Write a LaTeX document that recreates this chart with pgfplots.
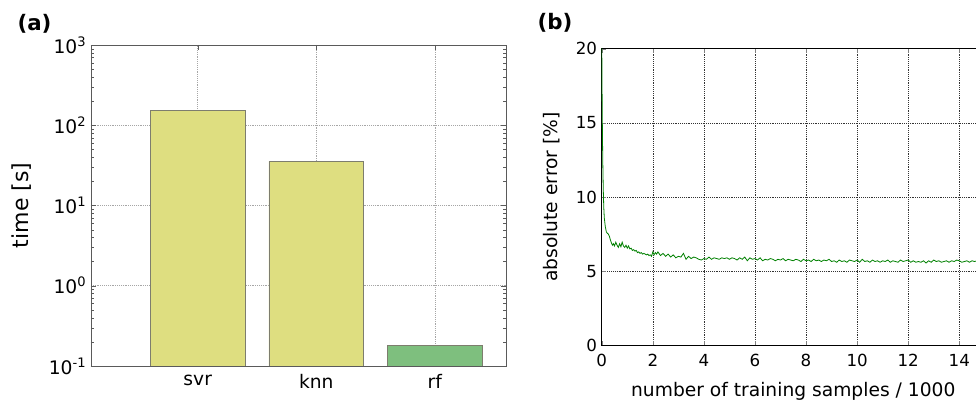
\documentclass[border=0pt]{standalone}
\usepackage{pgfplots}
\pgfplotsset{compat=1.18}
\usepackage{fontspec}
\setmainfont{DejaVu Sans}

\definecolor{baryel}{RGB}{222,222,128}
\definecolor{bargrn}{RGB}{126,191,126}
\definecolor{baredge}{RGB}{125,125,110}
\definecolor{spine}{RGB}{90,90,90}
\definecolor{curve}{RGB}{0,128,0}

\pgfplotstableread{
x y
0.00 20.5
0.02 15.5
0.04 12.5
0.06 10.5
0.08 9.3
0.10 8.6
0.14 8.0
0.18 7.65
0.22 7.55
0.26 7.5
0.30 7.35
0.34 7.1
0.38 6.9
0.42 6.75
0.46 6.85
0.50 6.7
0.55 6.95
0.60 6.75
0.65 6.6
0.70 6.85
0.75 6.65
0.80 6.95
0.85 6.7
0.90 6.6
0.95 6.75
1.00 6.55
1.05 6.7
1.10 6.5
1.15 6.55
1.20 6.4
1.25 6.45
1.30 6.35
1.35 6.4
1.40 6.25
1.45 6.3
1.50 6.2
1.55 6.25
1.60 6.15
1.65 6.2
1.70 6.15
1.75 6.1
1.80 6.15
1.85 6.05
1.90 6.1
1.95 6.0
2.00 6.3
2.05 6.1
2.10 6.25
2.15 6.15
2.20 6.3
2.30 6.05
2.40 6.2
2.50 6.0
2.60 6.15
2.70 5.95
2.80 6.1
2.90 5.9
3.00 6.0
3.10 5.95
3.20 6.2
3.30 5.8
3.40 6.0
3.50 5.85
3.60 5.95
3.70 5.9
3.80 5.8
3.90 5.75
4.00 5.85
4.10 5.8
4.20 5.95
4.30 5.8
4.40 5.9
4.50 5.85
4.60 5.8
4.70 5.9
4.80 5.85
4.90 5.9
5.00 5.8
5.10 5.9
5.20 5.85
5.30 5.75
5.40 5.9
5.50 5.8
5.60 5.95
5.70 5.7
5.80 5.9
5.90 5.8
6.00 5.85
6.10 5.75
6.20 5.9
6.30 5.7
6.40 5.8
6.50 5.75
6.60 5.85
6.70 5.8
6.80 5.7
6.90 5.8
7.00 5.75
7.10 5.85
7.20 5.7
7.30 5.8
7.40 5.75
7.50 5.7
7.60 5.8
7.70 5.75
7.80 5.65
7.90 5.8
8.00 5.7
8.10 5.75
8.20 5.65
8.30 5.8
8.40 5.7
8.50 5.75
8.60 5.65
8.70 5.75
8.80 5.7
8.90 5.8
9.00 5.65
9.10 5.7
9.20 5.6
9.30 5.75
9.40 5.65
9.50 5.7
9.60 5.6
9.70 5.75
9.80 5.7
9.90 5.65
10.00 5.75
10.10 5.6
10.20 5.8
10.30 5.65
10.40 5.7
10.50 5.6
10.60 5.75
10.70 5.65
10.80 5.7
10.90 5.6
11.00 5.7
11.10 5.65
11.20 5.75
11.30 5.6
11.40 5.7
11.50 5.65
11.60 5.6
11.70 5.75
11.80 5.65
11.90 5.7
12.00 5.75
12.10 5.6
12.20 5.7
12.30 5.6
12.40 5.65
12.50 5.6
12.60 5.7
12.70 5.55
12.80 5.7
12.90 5.6
13.00 5.75
13.10 5.65
13.20 5.7
13.30 5.6
13.40 5.65
13.50 5.7
13.60 5.6
13.70 5.7
13.80 5.65
13.90 5.75
14.00 5.7
14.10 5.6
14.20 5.65
14.30 5.7
14.40 5.6
14.50 5.7
14.60 5.65
14.70 5.7
14.80 5.6
14.90 5.65
15.00 5.7
}\errortable

\begin{document}
\begin{tikzpicture}
% page = 976 x 402 px at 0.75pt per px
\path[use as bounding box, clip] (0,0) rectangle (732pt,301.5pt);

\pgfplotsset{every axis/.append style={
  scale only axis,
  tick align=inside,
  major tick length=3.5pt,
  minor tick length=2pt,
  /pgf/number format/assume math mode=true,
}}

% (a) timing, log scale
\begin{axis}[
  at={(68.25pt,27pt)}, anchor=south west,
  width=311.25pt, height=240.75pt,
  font=\fontsize{14}{16}\selectfont,
  ymode=log, log origin y=infty,
  ymin=0.1, ymax=1000,
  xmin=0.1, xmax=3.6,
  xtick={1,2,3}, xticklabels={svr,knn,rf},
  xticklabel style={yshift=-3pt},
  ytick={0.1,1,10,100,1000},
  yticklabels={10\textsuperscript{-1},10\textsuperscript{0},10\textsuperscript{1},10\textsuperscript{2},10\textsuperscript{3}},
  ylabel={time [s]},
  ylabel style={font=\fontsize{16.5}{18}\selectfont, yshift=6pt},
  xmajorgrids, ymajorgrids,
  grid style={densely dotted, gray!70},
  axis line style={spine},
  tick style={spine},
]
\addplot[ybar, bar width=0.8, fill=baryel, draw=baredge] coordinates {(1,154) (2,35.5)};
\addplot[ybar, bar width=0.8, fill=bargrn, draw=baredge] coordinates {(3,0.18)};
\end{axis}

% (b) learning curve
\begin{axis}[
  at={(451.3pt,42.5pt)}, anchor=south west,
  width=287.3pt, height=222.5pt,
  font=\fontsize{12.5}{15}\selectfont,
  xmin=0, xmax=15, ymin=0, ymax=20,
  xtick={0,2,...,14}, ytick={0,5,...,20},
  xticklabel style={yshift=-3pt},
  xlabel={number of training samples / 1000},
  ylabel={absolute error [\%]},
  xlabel style={font=\fontsize{14}{16}\selectfont, yshift=-5pt},
  ylabel style={font=\fontsize{14}{16}\selectfont, yshift=5pt},
  xmajorgrids, ymajorgrids,
  grid style={densely dotted, black!80},
]
\addplot[curve, line width=0.6pt] table[x=x, y=y] {\errortable};
\end{axis}

\node[anchor=north west, inner sep=0pt, font=\fontsize{16}{18}\selectfont\bfseries] at (13pt,291pt) {(a)};
\node[anchor=north west, inner sep=0pt, font=\fontsize{16}{18}\selectfont\bfseries] at (403pt,292pt) {(b)};
\end{tikzpicture}
\end{document}
